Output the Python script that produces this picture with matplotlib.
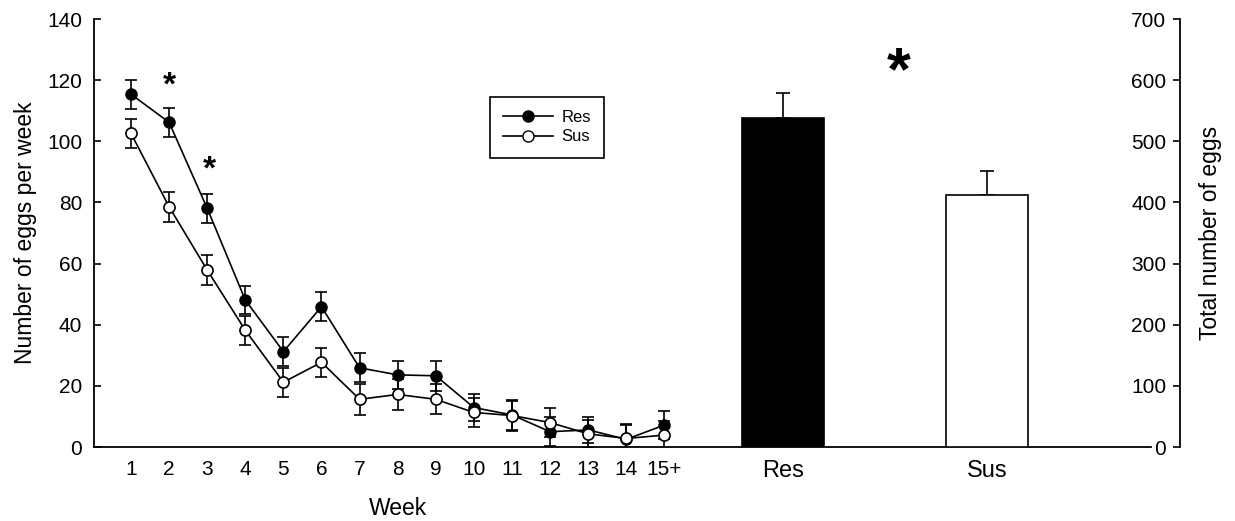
import numpy as np
import matplotlib
matplotlib.use("Agg")
import matplotlib.pyplot as plt
from matplotlib.lines import Line2D

plt.rcParams["font.family"] = ["Liberation Sans", "DejaVu Sans"]

# weekly egg counts (mean +/- se)
weeks = np.arange(1, 16)
week_labels = [str(w) for w in range(1, 15)] + ["15+"]
res_mean = [115.4, 106.2, 78.1, 48.1, 31.2, 45.9, 25.9, 23.6, 23.3, 12.9, 10.5, 5.0, 5.6, 2.5, 7.2]
res_err = [4.7, 4.7, 4.8, 4.7, 4.7, 4.7, 4.7, 4.6, 4.9, 4.4, 4.9, 4.7, 4.3, 4.8, 4.7]
sus_mean = [102.6, 78.6, 57.9, 38.2, 21.2, 27.7, 15.6, 17.2, 15.6, 11.3, 10.3, 8.0, 4.3, 2.8, 3.9]
sus_err = [4.8, 4.9, 4.8, 4.8, 4.8, 4.7, 5.0, 5.0, 4.9, 4.7, 4.9, 4.8, 4.6, 4.7, 4.7]

# total eggs (right axis)
groups = ["Res", "Sus"]
total_mean = [538.6, 412.1]
total_err = [39.8, 39.8]
bar_pos = [18.12, 23.47]

fig = plt.figure(figsize=(12.35, 5.21), dpi=100)
ax = fig.add_axes([0.0761, 0.1420, 0.8794, 0.8215])

ax.errorbar(weeks, res_mean, yerr=res_err, color="black", lw=1.2, marker="o",
            ms=8, mfc="black", mec="black", capsize=4.5, elinewidth=1.2,
            capthick=1.2, zorder=3)
ax.errorbar(weeks, sus_mean, yerr=sus_err, color="black", lw=1.2, marker="o",
            ms=8, mfc="white", mec="black", mew=1.2, capsize=4.5,
            elinewidth=1.2, capthick=1.2, zorder=4)

ax.set_xlim(0.029, 28.533)
ax.set_ylim(0, 140)
ax.set_yticks(range(0, 141, 20))
ax.tick_params(axis="y", direction="in", length=5, width=1.2, pad=8.5, labelsize=15)

ax.set_xticks(list(weeks) + bar_pos)
ax.tick_params(axis="x", length=0, pad=9.5, labelsize=15)
labs = ax.set_xticklabels(week_labels + groups)
for t in labs[-2:]:
    t.set_fontsize(17)

for s in ["top", "right"]:
    ax.spines[s].set_visible(False)
ax.spines["left"].set_linewidth(1.3)
ax.spines["bottom"].set_linewidth(1.3)
ax.spines["bottom"].set_bounds(0.029, 27.77)

ax.text(-0.0635, 0.5, "Number of eggs per week", rotation=90, fontsize=16.5,
        ha="center", va="center", transform=ax.transAxes)
ax.text(0.28, -0.1425, "Week", fontsize=16.5, ha="center", va="center",
        transform=ax.transAxes)

# significance marks
ax.text(2, 118, "*", fontsize=24, fontweight="bold", ha="center", va="center")
ax.text(3.05, 90.5, "*", fontsize=24, fontweight="bold", ha="center", va="center")
ax.text(21.16, 122, "*", fontsize=44, fontweight="bold", ha="center", va="center")

handles = [
    Line2D([], [], color="black", lw=1.2, marker="o", ms=8, mfc="black", mec="black"),
    Line2D([], [], color="black", lw=1.2, marker="o", ms=8, mfc="white", mec="black"),
]
leg = ax.legend(handles, ["Res", "Sus"], loc="upper left",
                bbox_to_anchor=(0.3646, 0.8178), borderaxespad=0,
                fontsize=12, handlelength=3.0, handletextpad=0.5,
                labelspacing=0.25, fancybox=False, edgecolor="black",
                framealpha=1, borderpad=0.8)
leg.get_frame().set_linewidth(1.2)

# bars on the right axis
ax2 = ax.twinx()
ax2.bar(bar_pos, total_mean, width=2.15, color=["black", "white"],
        edgecolor="black", linewidth=1.2, zorder=2)
ax2.errorbar(bar_pos, total_mean, yerr=[[0, 0], total_err], fmt="none",
             ecolor="black", elinewidth=1.2, capsize=5, capthick=1.2, zorder=1)
ax2.set_ylim(0, 700)
ax2.set_yticks(range(0, 701, 100))
ax2.yaxis.tick_left()
ax2.spines["left"].set_position(("axes", 1.0))
ax2.spines["left"].set_linewidth(1.3)
for s in ["top", "right", "bottom"]:
    ax2.spines[s].set_visible(False)
ax2.tick_params(axis="y", direction="out", length=5, width=1.2, pad=5, labelsize=15)
ax2.text(1.0276, 0.5, "Total number of eggs", rotation=90, fontsize=16.5,
         ha="center", va="center", transform=ax2.transAxes)

fig.savefig("out.png", dpi=100)
